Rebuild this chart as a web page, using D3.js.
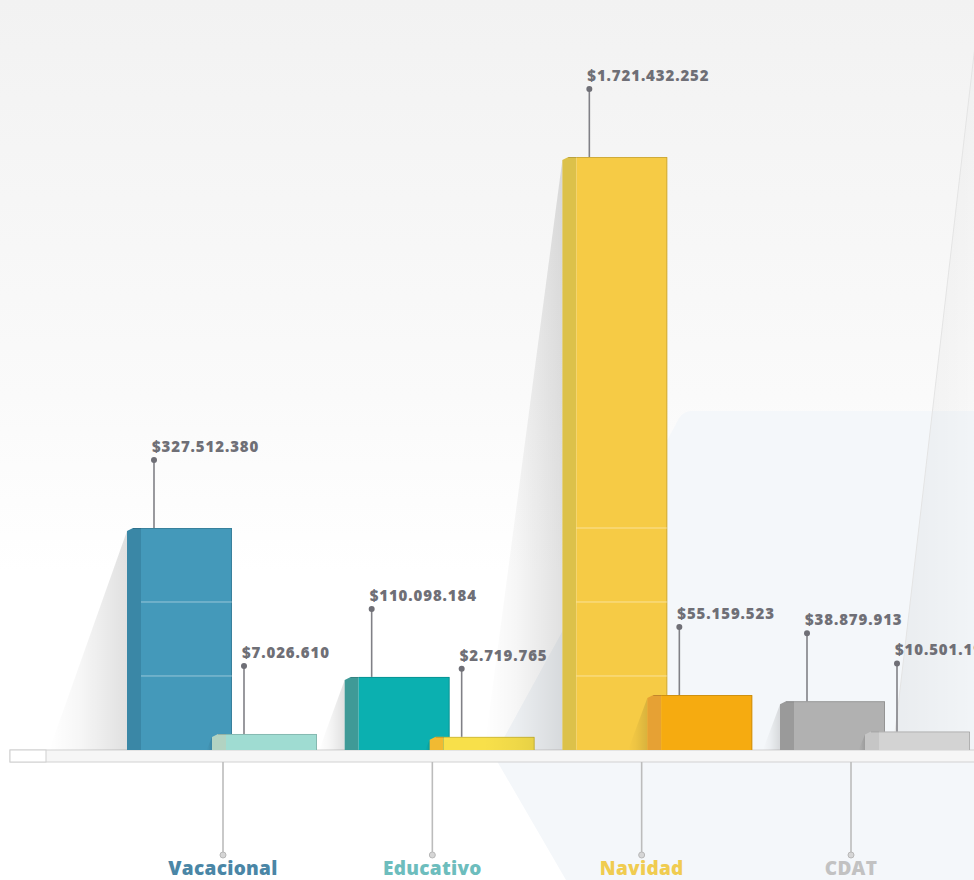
<!DOCTYPE html>
<html><head><meta charset="utf-8">
<script src="https://cdn.jsdelivr.net/npm/d3@7"></script>
<style>html,body{margin:0;padding:0;background:#fff;overflow:hidden}</style>
</head><body>
<svg id="c" width="974" height="880"></svg>
<script>
// ---- data ----
const categories = ["Vacacional", "Educativo", "Navidad", "CDAT"];
const primaryValues = [327512380, 110098184, 1721432252, 38879913];
const secondaryValues = [7026610, 2719765, 55159523, 10501193];
const gridValues = [111.5e6, 219.5e6, 327.5e6];
const labelColors = ["#4a86a6", "#6dbdbd", "#f0cc50", "#c2c2c2"];
const primaryFront = ["#4499ba", "#0bb0b0", "#f6cb45", "#b1b1b1"];
const primarySide = ["#3a87a6", "#3f9a97", "#dcc14a", "#9a9a9a"];
const secondaryFront = ["#9fdcd2", "#f8e04a", "#f6ab10", "#d3d3d3"];
const secondarySide = ["#b2d3c2", "#f1ba32", "#e6a134", "#c6c6c6"];

// ---- layout ----
const W = 974, H = 880, base = 750;
const sideW = 14, frontW = 91, secOffset = 85, leader = 68;
const svg = d3.select("#c");
const defs = svg.append("defs");

const locale = d3.formatLocale({decimal: ",", thousands: ".", grouping: [3], currency: ["$", ""]});
const fmt = locale.format("$,");

// piecewise (polylinear) value scale
const y = d3.scaleLinear()
  .domain([0, 1e6, 10e6, 40e6, 110e6, 327.5e6, 1721.4e6])
  .range([base, base - 12, base - 18, base - 50, base - 73, base - 222, base - 593]);
const x = d3.scalePoint().domain(categories).range([127, 780]);
const xl = d3.scalePoint().domain(categories).range([223, 851]);

// ---- background ----
const bg = defs.append("linearGradient").attr("id", "bg").attr("x1", 0).attr("y1", 0).attr("x2", 0).attr("y2", 1);
bg.append("stop").attr("offset", "0").attr("stop-color", "#f2f2f2");
bg.append("stop").attr("offset", "0.45").attr("stop-color", "#fafafa");
bg.append("stop").attr("offset", "0.65").attr("stop-color", "#ffffff");
bg.append("stop").attr("offset", "1").attr("stop-color", "#ffffff");
svg.append("rect").attr("width", W).attr("height", H).attr("fill", "url(#bg)");

// bluish panel lower right
svg.append("path")
  .attr("d", "M690,411 L974,411 L974,880 L566,880 L494,756 L676,424 Q681,412 690,411 Z")
  .attr("fill", "#f4f7fa");

// big faint diagonal shadow at right
const rs = defs.append("linearGradient").attr("id", "rs").attr("x1", 0).attr("y1", 0).attr("x2", 1).attr("y2", 0);
rs.append("stop").attr("offset", "0").attr("stop-color", "#000").attr("stop-opacity", 0.045);
rs.append("stop").attr("offset", "1").attr("stop-color", "#000").attr("stop-opacity", 0.01);
svg.append("path").attr("d", "M978,20 L893,750 L974,750 L974,20 Z").attr("fill", "url(#rs)");
svg.append("line").attr("x1", 978).attr("y1", 20).attr("x2", 893).attr("y2", 750)
  .attr("stroke", "#e4e4e4").attr("stroke-width", 1);

// shadow gradient
const sg = defs.append("linearGradient").attr("id", "sg").attr("x1", 1).attr("y1", 0).attr("x2", 0).attr("y2", 0);
sg.append("stop").attr("offset", "0").attr("stop-color", "#000").attr("stop-opacity", 0.12);
sg.append("stop").attr("offset", "0.6").attr("stop-color", "#000").attr("stop-opacity", 0.035);
sg.append("stop").attr("offset", "1").attr("stop-color", "#000").attr("stop-opacity", 0);

// ---- platform ----
svg.append("rect").attr("x", 10).attr("y", base).attr("width", 980).attr("height", 12)
  .attr("fill", "#f6f6f6").attr("stroke", "#d2d2d2").attr("stroke-width", 1);
svg.append("rect").attr("x", 10).attr("y", base).attr("width", 36).attr("height", 12)
  .attr("fill", "#fff").attr("stroke", "#cfcfcf").attr("stroke-width", 1);

// ---- bars ----
const bars = [];
categories.forEach((c, i) => {
  bars.push({cat: c, i, v: primaryValues[i], x0: x(c), front: primaryFront[i], side: primarySide[i], big: true});
  bars.push({cat: c, i, v: secondaryValues[i], x0: x(c) + secOffset, front: secondaryFront[i], side: secondarySide[i], big: false});
});

const g = svg.append("g");
bars.forEach(b => {
  const top = y(b.v), h = base - top;
  const dx = Math.min(h * 0.35, 78);
  g.append("path")
    .attr("d", `M${b.x0},${top + 3} L${b.x0},${base} L${b.x0 - dx},${base} Z`)
    .attr("fill", "url(#sg)");
  g.append("path")
    .attr("d", `M${b.x0},${top + 3} L${b.x0 + 6},${top} L${b.x0 + sideW},${top} L${b.x0 + sideW},${base} L${b.x0},${base} Z`)
    .attr("fill", b.side);
  g.append("rect").attr("x", b.x0 + sideW).attr("y", top).attr("width", frontW).attr("height", h)
    .attr("fill", b.front);
  g.append("path")
    .attr("d", `M${b.x0 + 6},${top + 0.5} L${b.x0 + sideW + frontW - 0.5},${top + 0.5} L${b.x0 + sideW + frontW - 0.5},${base}`)
    .attr("fill", "none").attr("stroke", "#000").attr("stroke-opacity", 0.16).attr("stroke-width", 1);
  gridValues.filter(gv => gv < b.v * 0.99).forEach(gv => {
    g.append("line").attr("x1", b.x0 + sideW).attr("x2", b.x0 + sideW + frontW)
      .attr("y1", y(gv)).attr("y2", y(gv))
      .attr("stroke", "#fff").attr("stroke-opacity", 0.45).attr("stroke-width", 1);
  });
});

// ---- value labels ----
bars.forEach(b => {
  const top = y(b.v);
  const lx = b.x0 + sideW + (b.big ? 13 : 18);
  const dy = top - leader;
  g.append("line").attr("x1", lx).attr("x2", lx).attr("y1", dy).attr("y2", top)
    .attr("stroke", "#808086").attr("stroke-width", 1.6);
  g.append("circle").attr("cx", lx).attr("cy", dy).attr("r", 3).attr("fill", "#6f6f76");
  g.append("text").attr("x", lx - 2).attr("y", dy - 8)
    .attr("font-family", "'Open Sans', 'DejaVu Sans', sans-serif")
    .attr("font-weight", 800).attr("font-size", 15).attr("letter-spacing", 0.9)
    .attr("fill", "#6f6f76")
    .text(fmt(b.v));
});

// ---- category labels ----
categories.forEach((c, i) => {
  const cx = xl(c);
  svg.append("line").attr("x1", cx).attr("x2", cx).attr("y1", base + 12).attr("y2", 852)
    .attr("stroke", "#bcbcbc").attr("stroke-width", 1.6);
  svg.append("circle").attr("cx", cx).attr("cy", 855).attr("r", 3)
    .attr("fill", "#d6d6d6").attr("stroke", "#b8b8b8").attr("stroke-width", 1);
  svg.append("text").attr("x", cx).attr("y", 875).attr("text-anchor", "middle")
    .attr("font-family", "'Open Sans', 'DejaVu Sans', sans-serif")
    .attr("font-weight", 800).attr("font-size", 19).attr("letter-spacing", 0.3)
    .attr("fill", labelColors[i])
    .text(c);
});
</script>
</body></html>
